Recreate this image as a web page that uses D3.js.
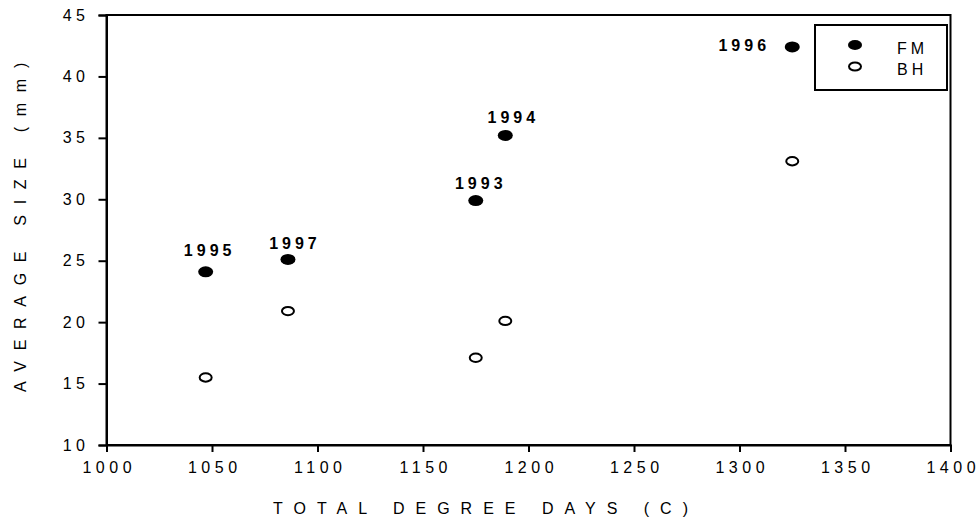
<!DOCTYPE html>
<html>
<head>
<meta charset="utf-8">
<script src="https://cdn.jsdelivr.net/npm/d3@7"></script>
<style>
  html, body { margin: 0; padding: 0; background: #fff; }
  svg { display: block; font-family: "Liberation Sans", Arial, sans-serif; }
</style>
</head>
<body>
<svg id="chart" width="980" height="523"></svg>
<script>
// Survey years and their accumulated degree days
const years = ["1995", "1997", "1993", "1994", "1996"];
const degreeDays = [1047, 1086, 1175, 1189, 1325];
// Average size (mm) per site
const fmSize = [24.1, 25.1, 29.9, 35.2, 42.4];
const bhSize = [15.5, 20.9, 17.1, 20.1, 33.1];
// Axis ticks
const xTicks = [1000, 1050, 1100, 1150, 1200, 1250, 1300, 1350, 1400];
const yTicks = [10, 15, 20, 25, 30, 35, 40, 45];

// Year label placement relative to each FM point: [dx, dy]
const labelPlacement = [
  [4, -16],
  [7, -10],
  [5, -12],
  [8, -12],
  [-48, 4]
];

const svg = d3.select("#chart");
const x = d3.scaleLinear().domain([1000, 1400]).range([106.5, 950.5]);
const y = d3.scaleLinear().domain([10, 45]).range([445, 15]);

// Plot frame
svg.append("rect")
  .attr("x", x(1000)).attr("y", y(45))
  .attr("width", x(1400) - x(1000)).attr("height", y(10) - y(45))
  .attr("fill", "none").attr("stroke", "#000").attr("stroke-width", 2);

// Axes
const xAxis = svg.append("g")
  .attr("transform", `translate(0,${y(10)})`)
  .call(d3.axisBottom(x).tickValues(xTicks).tickSize(7).tickPadding(10).tickFormat(d3.format("d")));
const yAxis = svg.append("g")
  .attr("transform", `translate(${x(1000)},0)`)
  .call(d3.axisLeft(y).tickValues(yTicks).tickSize(8).tickPadding(9).tickFormat(d3.format("d")));

[xAxis, yAxis].forEach(g => {
  g.select(".domain").attr("stroke", "#000").attr("stroke-width", 2);
  g.selectAll(".tick line").attr("stroke", "#000").attr("stroke-width", 2);
  g.selectAll(".tick text")
    .attr("fill", "#000")
    .style("font-size", "16px")
    .style("letter-spacing", "4.5px")
    .style("font-family", "'Liberation Sans', Arial, sans-serif");
});
xAxis.selectAll(".tick text").attr("dx", "2.25");

// Axis titles
svg.append("text")
  .attr("x", 486)
  .attr("y", 514)
  .attr("text-anchor", "middle")
  .style("font-size", "16px")
  .style("letter-spacing", "11px")
  .text("TOTAL DEGREE DAYS (C)");

svg.append("text")
  .attr("transform", `translate(26,222) rotate(-90)`)
  .attr("text-anchor", "middle")
  .style("font-size", "16px")
  .style("letter-spacing", "10.7px")
  .text("AVERAGE SIZE (mm)");

// BH markers (open)
svg.append("g").selectAll("ellipse")
  .data(bhSize)
  .join("ellipse")
  .attr("cx", (d, i) => x(degreeDays[i]))
  .attr("cy", d => y(d))
  .attr("rx", 6).attr("ry", 4.2)
  .attr("fill", "#fff").attr("stroke", "#000").attr("stroke-width", 2);

// FM markers (filled)
svg.append("g").selectAll("ellipse")
  .data(fmSize)
  .join("ellipse")
  .attr("cx", (d, i) => x(degreeDays[i]))
  .attr("cy", d => y(d))
  .attr("rx", 7.5).attr("ry", 5.5)
  .attr("fill", "#000");

// Year labels
svg.append("g").selectAll("text")
  .data(years)
  .join("text")
  .attr("x", (d, i) => x(degreeDays[i]) + labelPlacement[i][0])
  .attr("y", (d, i) => y(fmSize[i]) + labelPlacement[i][1])
  .attr("text-anchor", "middle")
  .style("font-size", "16px")
  .style("font-weight", "bold")
  .style("letter-spacing", "4px")
  .text(d => d);

// Legend
const legend = svg.append("g");
legend.append("rect")
  .attr("x", 815).attr("y", 25).attr("width", 132).attr("height", 65)
  .attr("fill", "#fff").attr("stroke", "#000").attr("stroke-width", 2);
const legendItems = [
  { name: "FM", fill: "#000", rx: 7, ry: 5 },
  { name: "BH", fill: "#fff", rx: 6, ry: 4 }
];
legendItems.forEach((it, i) => {
  const cy = 45 + i * 21.5;
  legend.append("ellipse")
    .attr("cx", 855).attr("cy", cy)
    .attr("rx", it.rx).attr("ry", it.ry)
    .attr("fill", it.fill)
    .attr("stroke", "#000").attr("stroke-width", it.fill === "#000" ? 0 : 2);
  legend.append("text")
    .attr("x", 897).attr("y", cy + 8.5)
    .style("font-size", "16px")
    .style("letter-spacing", "4px")
    .text(it.name);
});
</script>
</body>
</html>
